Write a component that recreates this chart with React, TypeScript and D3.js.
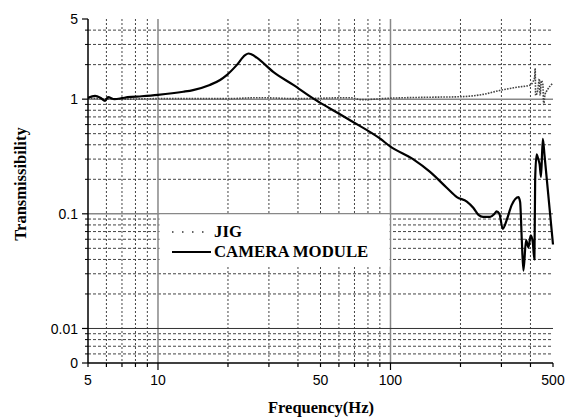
import React from "react";
import * as d3 from "d3";

const camFreq = [5, 5.36, 5.65, 5.92, 6.1, 6.5, 7.0, 7.4, 8.5, 10, 12.85, 14.15, 16.7, 18.5, 19.75, 21.8, 23.7, 24.5, 25.3, 26.6, 31.3, 38.2, 46.6, 54.9, 67, 90, 100, 125, 148, 175, 193, 213, 227, 239, 250, 268, 280, 286, 294, 304, 316, 332, 355, 361, 367, 373, 383, 392, 401, 409, 416, 419, 425, 432, 438, 444, 452, 460, 500];
const camVal = [1.03, 1.07, 1.03, 0.965, 1.04, 1.0, 1.02, 1.04, 1.06, 1.09, 1.16, 1.2, 1.33, 1.47, 1.62, 1.98, 2.42, 2.5, 2.45, 2.3, 1.73, 1.33, 1.01, 0.83, 0.655, 0.454, 0.385, 0.3, 0.232, 0.168, 0.14, 0.128, 0.113, 0.098, 0.094, 0.094, 0.1, 0.105, 0.1, 0.074, 0.088, 0.119, 0.14, 0.127, 0.06, 0.032, 0.059, 0.051, 0.065, 0.057, 0.04, 0.2, 0.33, 0.3, 0.27, 0.21, 0.45, 0.32, 0.054];

const jigFreq = [5, 7, 10, 20, 27, 40, 67, 75, 100, 150, 200, 250, 300, 350, 400, 410, 417, 419, 421, 430, 437, 440, 446, 452, 456, 462, 470, 500];
const jigVal = [1.02, 1.0, 1.01, 1.01, 1.03, 1.01, 1.03, 0.99, 1.02, 1.04, 1.05, 1.1, 1.2, 1.27, 1.33, 1.42, 1.55, 1.86, 1.08, 1.2, 1.5, 1.08, 1.45, 1.35, 0.9, 1.1, 1.18, 1.38];

const xMajorGrid = [10, 100];
const xMinorGrid = [6, 7, 8, 9, 20, 30, 40, 50, 60, 70, 80, 90, 200, 300, 400];
const xTickLabels = [5, 10, 50, 100, 500];
const yMajorGrid = [1, 0.1];
const yDarkGrid = [0.01];
const yMinorGrid = [2, 3, 4, 0.2, 0.3, 0.4, 0.5, 0.6, 0.7, 0.8, 0.9, 0.02, 0.03, 0.04, 0.05, 0.06, 0.07, 0.08, 0.09, 0.006, 0.007, 0.008, 0.009];
const yTickValues = [5, 1, 0.1, 0.01, 0.005];
const yTickText = ["5", "1", "0.1", "0.01", "0"];

const legendLabels = ["JIG", "CAMERA MODULE"];

const serif = "'Liberation Serif', 'Times New Roman', serif";
const sans = "'Liberation Sans', Arial, sans-serif";

export default function App() {
  const x = d3.scaleLog().domain([5, 500]).range([88, 553]);
  const y = d3.scaleLog().domain([0.005, 5]).range([363, 19]);
  const line = d3
    .line<[number, number]>()
    .x((d) => x(d[0]))
    .y((d) => y(d[1]))
    .curve(d3.curveMonotoneX);
  const camData = camFreq.map((f, i) => [f, camVal[i]] as [number, number]);
  const jigData = jigFreq.map((f, i) => [f, jigVal[i]] as [number, number]);
  const left = 88, right = 553, top = 19, bottom = 363;

  return (
    <svg width={569} height={417} style={{ position: "absolute", left: 0, top: 0, background: "#fff" }}>
      <rect x={0} y={0} width={569} height={417} fill="#fff" />
      {/* minor grid */}
      {xMinorGrid.map((v) => (
        <line key={"xm" + v} x1={x(v)} x2={x(v)} y1={top} y2={bottom} stroke="#444" strokeWidth={1} strokeDasharray="2,2" />
      ))}
      {yMinorGrid.map((v) => (
        <line key={"ym" + v} x1={left} x2={right} y1={y(v)} y2={y(v)} stroke="#444" strokeWidth={1} strokeDasharray="3,2" />
      ))}
      {xMajorGrid.map((v) => (
        <line key={"xM" + v} x1={x(v)} x2={x(v)} y1={top} y2={bottom} stroke="#888" strokeWidth={1.5} />
      ))}
      {yMajorGrid.map((v) => (
        <line key={"yM" + v} x1={left} x2={right} y1={y(v)} y2={y(v)} stroke="#888" strokeWidth={1.5} />
      ))}
      {yDarkGrid.map((v) => (
        <line key={"yD" + v} x1={left} x2={right} y1={y(v)} y2={y(v)} stroke="#333" strokeWidth={1} />
      ))}
      {/* curves */}
      <path d={line(jigData) || ""} fill="none" stroke="#444" strokeWidth={1.6} strokeDasharray="1.6,1.2" />
      <path d={line(camData) || ""} fill="none" stroke="#000" strokeWidth={2.2} strokeLinejoin="round" />
      {/* legend */}
      <rect x={159.5} y={214.5} width={230} height={52} fill="#fff" />
      <line x1={172} x2={207} y1={232} y2={232} stroke="#333" strokeWidth={1.6} strokeDasharray="1.5,8.5" />
      <text x={214} y={237} fontFamily={serif} fontWeight="bold" fontSize={16.8} fill="#000">{legendLabels[0]}</text>
      <line x1={172} x2={211} y1={252} y2={252} stroke="#000" strokeWidth={2.2} />
      <text x={214} y={257} fontFamily={serif} fontWeight="bold" fontSize={16.8} fill="#000">{legendLabels[1]}</text>
      {/* axes */}
      <line x1={left} x2={left} y1={top} y2={bottom} stroke="#000" strokeWidth={1.5} />
      <line x1={left} x2={right} y1={bottom} y2={bottom} stroke="#000" strokeWidth={1.5} />
      {yTickValues.map((v) => (
        <line key={"yt" + v} x1={left - 6} x2={left} y1={y(v)} y2={y(v)} stroke="#000" strokeWidth={1.2} />
      ))}
      {yMinorGrid.map((v) => (
        <line key={"ytm" + v} x1={left - 3} x2={left} y1={y(v)} y2={y(v)} stroke="#000" strokeWidth={1} />
      ))}
      {[...xMinorGrid, ...xMajorGrid, 5, 500].map((v) => (
        <line key={"xt" + v} x1={x(v)} x2={x(v)} y1={bottom} y2={bottom + (v === 10 || v === 100 ? 7 : 4)} stroke="#000" strokeWidth={1.2} />
      ))}
      {yTickValues.map((v, i) => (
        <text key={"yl" + v} x={78} y={y(v)} dy="0.36em" textAnchor="end" fontFamily={sans} fontSize={14} fill="#000">{yTickText[i]}</text>
      ))}
      {xTickLabels.map((v) => (
        <text key={"xl" + v} x={x(v)} y={385} textAnchor="middle" fontFamily={sans} fontSize={14} fill="#000">{String(v)}</text>
      ))}
      <text x={321} y={413} textAnchor="middle" fontFamily={serif} fontWeight="bold" fontSize={16.5} fill="#000">Frequency(Hz)</text>
      <text transform="translate(26,184) rotate(-90)" textAnchor="middle" fontFamily={serif} fontWeight="bold" fontSize={16.5} fill="#000">Transmissibility</text>
    </svg>
  );
}
